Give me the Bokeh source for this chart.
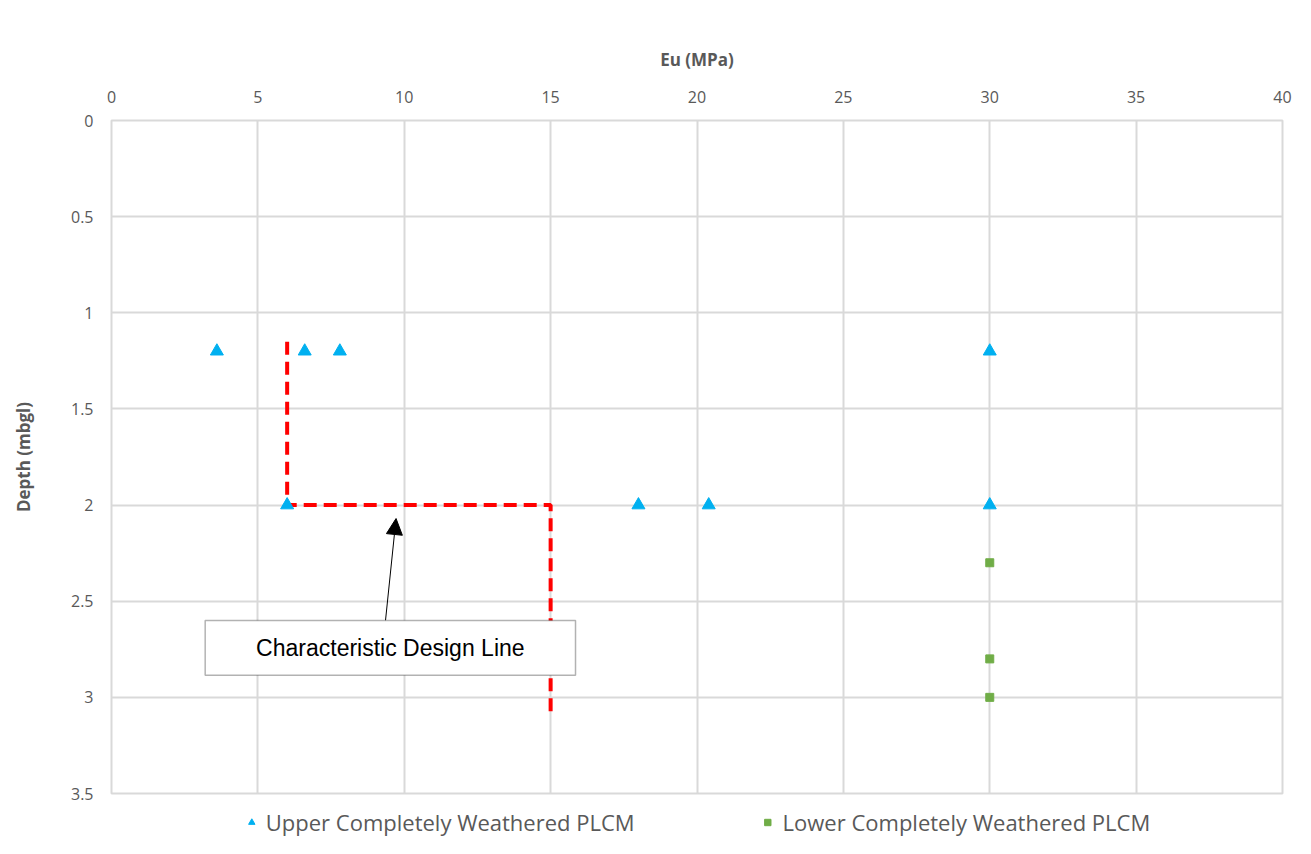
from bokeh.plotting import figure
from bokeh.layouts import column
from bokeh.models import (Range1d, FixedTicker, Legend, LegendItem, BoxAnnotation,
                          Label, Arrow, NormalHead)
from bokeh.embed import file_html
from bokeh.resources import INLINE

# ---- data ----
upper_eu = [3.6, 6.6, 7.8, 30, 6, 18, 20.4, 30]
upper_depth = [1.2, 1.2, 1.2, 1.2, 2.0, 2.0, 2.0, 2.0]
lower_eu = [30, 30, 30]
lower_depth = [2.3, 2.8, 3.0]
design_eu = [6, 6, 15, 15]
design_depth = [1.15, 2.0, 2.0, 3.08]

x_ticks = [0, 5, 10, 15, 20, 25, 30, 35, 40]
x_tick_labels = ["0", "5", "10", "15", "20", "25", "30", "35", "40"]
y_ticks = [0, 0.5, 1, 1.5, 2, 2.5, 3, 3.5]
y_tick_labels = ["0", "0.5", "1", "1.5", "2", "2.5", "3", "3.5"]

series_names = ["Upper Completely Weathered PLCM", "Lower Completely Weathered PLCM"]
annotation_text = "Characteristic Design Line"

# annotation geometry (data coords)
box_left, box_right, box_top, box_bottom = 3.2, 15.85, 2.60, 2.885
arrow_start = (9.36, 2.60)
arrow_end = (9.72, 2.07)

FONT = "Open Sans"
GREY = "#595959"
BLUE = "#00b0f0"
GREEN = "#70ad47"

p = figure(width=1303, height=805, frame_width=1171, frame_height=673,
           output_backend="svg", toolbar_location=None,
           x_range=Range1d(0, 40), y_range=Range1d(3.5, 0),
           x_axis_location="above",
           min_border_left=111, min_border_right=21, min_border_top=120, min_border_bottom=12)

p.outline_line_color = "#d9d9d9"
p.outline_line_width = 2
p.background_fill_color = "white"
p.border_fill_color = "white"

for ax in (p.xaxis[0], p.yaxis[0]):
    ax.axis_line_color = None
    ax.major_tick_line_color = None
    ax.minor_tick_line_color = None
    ax.major_label_text_font = FONT
    ax.major_label_text_font_size = "16px"
    ax.major_label_text_color = GREY
    ax.axis_label_text_font = FONT
    ax.axis_label_text_font_style = "bold"
    ax.axis_label_text_font_size = "17px"
    ax.axis_label_text_color = GREY

p.xaxis.ticker = FixedTicker(ticks=x_ticks)
p.yaxis.ticker = FixedTicker(ticks=y_ticks)
p.xaxis.major_label_overrides = {t: l for t, l in zip(x_ticks, x_tick_labels)}
p.yaxis.major_label_overrides = {t: l for t, l in zip(y_ticks, y_tick_labels)}
p.xaxis.axis_label = "Eu (MPa)"
p.yaxis.axis_label = "Depth (mbgl)"
p.xaxis.major_label_standoff = 12
p.yaxis.major_label_standoff = 12
p.xaxis.axis_label_standoff = 17
p.yaxis.axis_label_standoff = 33

p.xgrid.grid_line_color = "#d9d9d9"
p.ygrid.grid_line_color = "#d9d9d9"
p.xgrid.grid_line_width = 2
p.ygrid.grid_line_width = 2
p.xgrid.ticker = FixedTicker(ticks=x_ticks)
p.ygrid.ticker = FixedTicker(ticks=y_ticks)

p.line(design_eu, design_depth, line_color="#ff0000", line_width=4, line_dash="13 7")

p.scatter(upper_eu, upper_depth, marker="triangle", size=13,
          fill_color=BLUE, line_color=BLUE)
p.scatter(lower_eu, lower_depth, marker="square", size=8,
          fill_color=GREEN, line_color=GREEN)

box = BoxAnnotation(left=box_left, right=box_right, top=box_top, bottom=box_bottom,
                    fill_color="white", fill_alpha=1.0, line_color="black", line_width=1.5,
                    level="overlay")
p.add_layout(box)
p.add_layout(Label(x=(box_left + box_right) / 2, y=(box_top + box_bottom) / 2,
                   text=annotation_text, text_align="center", text_baseline="middle",
                   text_font="Liberation Sans", text_font_size="23px", text_color="black",
                   level="overlay"))
p.add_layout(Arrow(x_start=arrow_start[0], y_start=arrow_start[1],
                   x_end=arrow_end[0], y_end=arrow_end[1], line_color="black", line_width=1,
                   end=NormalHead(size=16, fill_color="black", line_color="black")))

# ---- legend strip below the chart (series drawn out of view, only their legend shows) ----
pl = figure(width=1303, height=34, output_backend="svg", toolbar_location=None,
            x_range=Range1d(0, 1), y_range=Range1d(0, 1),
            x_axis_location=None, y_axis_location=None,
            min_border_left=111, min_border_right=21, min_border_top=0, min_border_bottom=0)
pl.grid.visible = False
pl.outline_line_color = None
pl.background_fill_color = "white"
pl.border_fill_color = "white"
l_up = pl.scatter(upper_eu, upper_depth, marker="triangle", size=11,
                  fill_color=BLUE, line_color=BLUE)
l_lo = pl.scatter(lower_eu, lower_depth, marker="square", size=8,
                  fill_color=GREEN, line_color=GREEN)

legend = Legend(items=[LegendItem(label=series_names[0], renderers=[l_up]),
                       LegendItem(label=series_names[1], renderers=[l_lo])],
                orientation="horizontal", location="center",
                label_text_font=FONT, label_text_font_size="22px", label_text_color=GREY,
                glyph_width=16, glyph_height=16, label_standoff=7, spacing=125,
                padding=2, margin=0,
                border_line_color=None, background_fill_alpha=0)
pl.add_layout(legend, "center")

layout = column(p, pl, spacing=0)
open("out.html", "w").write(file_html(layout, INLINE))
